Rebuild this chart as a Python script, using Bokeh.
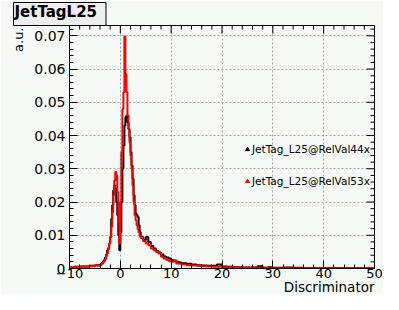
import numpy as np
from bokeh.plotting import figure
from bokeh.models import (Range1d, SingleIntervalTicker, Legend, LegendItem,
                          ColumnDataSource, Title)
from bokeh.embed import file_html
from bokeh.resources import INLINE

# ---------------- data ----------------
edges = ([-10 + 1.0 * i for i in range(6)] +
         [round(-4 + 0.2 * i, 2) for i in range(40)] +
         [4 + 0.5 * i for i in range(16)] +
         [12 + 1.0 * i for i in range(18)] +
         [30 + 2.0 * i for i in range(11)])

relval44 = [
    0.0003, 0.0005, 0.0006, 0.0006, 0.0008, 0.0010,
    0.0012, 0.0015, 0.0018, 0.0022, 0.0026, 0.0033, 0.0042, 0.0055, 0.0062, 0.0075,
    0.0095, 0.0150, 0.0190, 0.0235, 0.0250, 0.0240, 0.0200, 0.0160, 0.0100, 0.0055,
    0.0110, 0.0200, 0.0300, 0.0370, 0.0430, 0.0455, 0.0460, 0.0440, 0.0420, 0.0395,
    0.0350, 0.0310, 0.0270, 0.0220, 0.0190, 0.0165, 0.0160, 0.0155, 0.0130, 0.0110,
    0.0095, 0.0085, 0.0095, 0.0080, 0.0068, 0.0060, 0.0053, 0.0048, 0.0042, 0.0036,
    0.0033, 0.0030, 0.0025, 0.0022, 0.0020, 0.0018,
    0.0016, 0.0014, 0.0012, 0.0010, 0.0009, 0.0008, 0.0008, 0.0012, 0.0006, 0.0005,
    0.0004, 0.0004, 0.0003, 0.0003, 0.0003, 0.0007, 0.0002, 0.0004,
    0.0002, 0.0003, 0.0002, 0.0001, 0.0001, 0.0001, 0.0001, 0.0001, 0.0001, 0.0001,
]

relval53 = [
    0.0003, 0.0004, 0.0005, 0.0006, 0.0007, 0.0009,
    0.0010, 0.0012, 0.0014, 0.0018, 0.0022, 0.0028, 0.0038, 0.0046, 0.0058, 0.0075,
    0.0095, 0.0125, 0.0170, 0.0220, 0.0265, 0.0290, 0.0280, 0.0230, 0.0140, 0.0075,
    0.0200, 0.0350, 0.0480, 0.0530, 0.0698, 0.0585, 0.0530, 0.0460, 0.0420, 0.0380,
    0.0340, 0.0300, 0.0250, 0.0200, 0.0160, 0.0145, 0.0130, 0.0118, 0.0108, 0.0098,
    0.0092, 0.0082, 0.0075, 0.0070, 0.0060, 0.0055, 0.0050, 0.0045, 0.0035, 0.0030,
    0.0026, 0.0022, 0.0020, 0.0025, 0.0015, 0.0014,
    0.0012, 0.0010, 0.0009, 0.0008, 0.0007, 0.0006, 0.0005, 0.0005, 0.0004, 0.0004,
    0.0003, 0.0003, 0.0002, 0.0002, 0.0002, 0.0002, 0.0002, 0.0001,
    0.0001, 0.0001, 0.0001, 0.0001, 0.0001, 0.0001, 0.0001, 0.0001, 0.0001, 0.0001,
]

series_names = ["JetTag_L25@RelVal44x", "JetTag_L25@RelVal53x"]
title_text = "JetTagL25"
x_title = "Discriminator"
y_title = "a.u."

# ---------------- layout ----------------
XMIN, XMAX = -10, 50
YMIN, YMAX = 0, 0.0731
X_MAJOR, X_MINOR = 10, 2
Y_MAJOR, Y_MINOR = 0.01, 0.002
BG = "#f5faf7"
FONT = "DejaVu Sans"
FRAME_W, FRAME_H = 305, 240      # approx. frame size in px (for tick lengths)


def outline(e, v):
    xs, ys = [e[0]], [0]
    for i, val in enumerate(v):
        xs += [e[i], e[i + 1]]
        ys += [val, val]
    xs.append(e[-1])
    ys.append(0)
    return xs, ys


p = figure(width=383, height=294, output_backend="svg", toolbar_location=None,
           x_range=Range1d(XMIN, XMAX), y_range=Range1d(YMIN, YMAX),
           min_border_left=69, min_border_right=9, min_border_top=24,
           min_border_bottom=0, background_fill_color=BG, border_fill_color=BG,
           outline_line_color="black", outline_line_width=1)

xticker = SingleIntervalTicker(interval=X_MAJOR, num_minor_ticks=5)
yticker = SingleIntervalTicker(interval=Y_MAJOR, num_minor_ticks=5)


def style_axis(ax, fs, standoff):
    ax.major_tick_in = 8
    ax.major_tick_out = 0
    ax.minor_tick_in = 4
    ax.minor_tick_out = 0
    ax.axis_line_color = "black"
    ax.major_tick_line_color = "black"
    ax.minor_tick_line_color = "black"
    ax.major_label_text_font = FONT
    ax.major_label_text_font_size = fs
    ax.major_label_text_color = "black"
    ax.major_label_standoff = standoff


xa = p.xaxis[0]
xa.ticker = xticker
style_axis(xa, "13px", 0)

ya = p.yaxis[0]
ya.ticker = yticker
style_axis(ya, "14px", 4)
ya.major_label_overrides = {0: "0"}

p.xgrid.ticker = xticker
p.ygrid.ticker = yticker
for g in (p.xgrid, p.ygrid):
    g.grid_line_color = "#a8a8a8"
    g.grid_line_dash = "2 2"
    g.grid_line_width = 1

# ticks on the top and right frame edges (inward), like the ROOT frame
xmaj = np.arange(XMIN, XMAX + 1e-9, X_MAJOR)
xmin_ = np.array([v for v in np.arange(XMIN, XMAX + 1e-9, X_MINOR) if abs((v - XMIN) % X_MAJOR) > 1e-9])
ymaj = np.arange(YMIN, YMAX + 1e-12, Y_MAJOR)
ymin_ = np.array([v for v in np.arange(YMIN, YMAX, Y_MINOR) if min(v % Y_MAJOR, Y_MAJOR - v % Y_MAJOR) > 1e-9])
ypx = (YMAX - YMIN) / FRAME_H
xpx = (XMAX - XMIN) / FRAME_W
for xt, ln in ((xmaj, 8), (xmin_, 4)):
    p.segment(x0=xt, y0=YMAX, x1=xt, y1=YMAX - ln * ypx, line_color="black", line_width=1)
for yt, ln in ((ymaj, 8), (ymin_, 4)):
    p.segment(x0=XMAX, y0=yt, x1=XMAX - ln * xpx, y1=yt, line_color="black", line_width=1)

xs, ys = outline(edges, relval44)
p.line(xs, ys, line_color="black", line_width=2)
xs, ys = outline(edges, relval53)
p.line(xs, ys, line_color="#ff0000", line_width=2)

# legend with triangle markers (renderers carry no visible points)
nan = float("nan")
r44 = p.scatter("x", "y", source=ColumnDataSource(dict(x=[nan], y=[nan])),
                marker="triangle", size=5, color="black")
r53 = p.scatter("x", "y", source=ColumnDataSource(dict(x=[nan], y=[nan])),
                marker="triangle", size=5, color="#ff0000")
legend = Legend(items=[LegendItem(label=series_names[0], renderers=[r44]),
                       LegendItem(label=series_names[1], renderers=[r53])],
                location=(173, 79), orientation="vertical", padding=0, margin=0,
                spacing=16, label_height=16, glyph_height=16, glyph_width=10,
                label_standoff=0, border_line_color=None,
                background_fill_alpha=0, label_text_font=FONT,
                label_text_font_size="10.5px", label_text_color="black")
p.add_layout(legend, "center")

# axis titles as side titles
xt_title = Title(text=x_title, align="right", standoff=-4, vertical_align="top",
                 text_font=FONT, text_font_size="13.5px", text_font_style="normal",
                 text_color="black")
p.add_layout(xt_title, "below")
yt_title = Title(text=y_title, align="right", standoff=11, offset=2, text_font=FONT,
                 text_font_size="13px", text_font_style="normal", text_color="black")
p.add_layout(yt_title, "left")

# title box
t = p.title
t.text = title_text
t.align = "left"
t.offset = -56
t.standoff = 0
t.text_font = FONT
t.text_font_size = "15px"
t.text_font_style = "bold"
t.text_color = "black"
t.background_fill_color = "#eeeeee"
t.border_line_color = "black"
t.border_line_width = 1
if "padding" in t.properties():
    t.padding = (1, 9, 0, 5)

open("out.html", "w").write(file_html(p, INLINE))
